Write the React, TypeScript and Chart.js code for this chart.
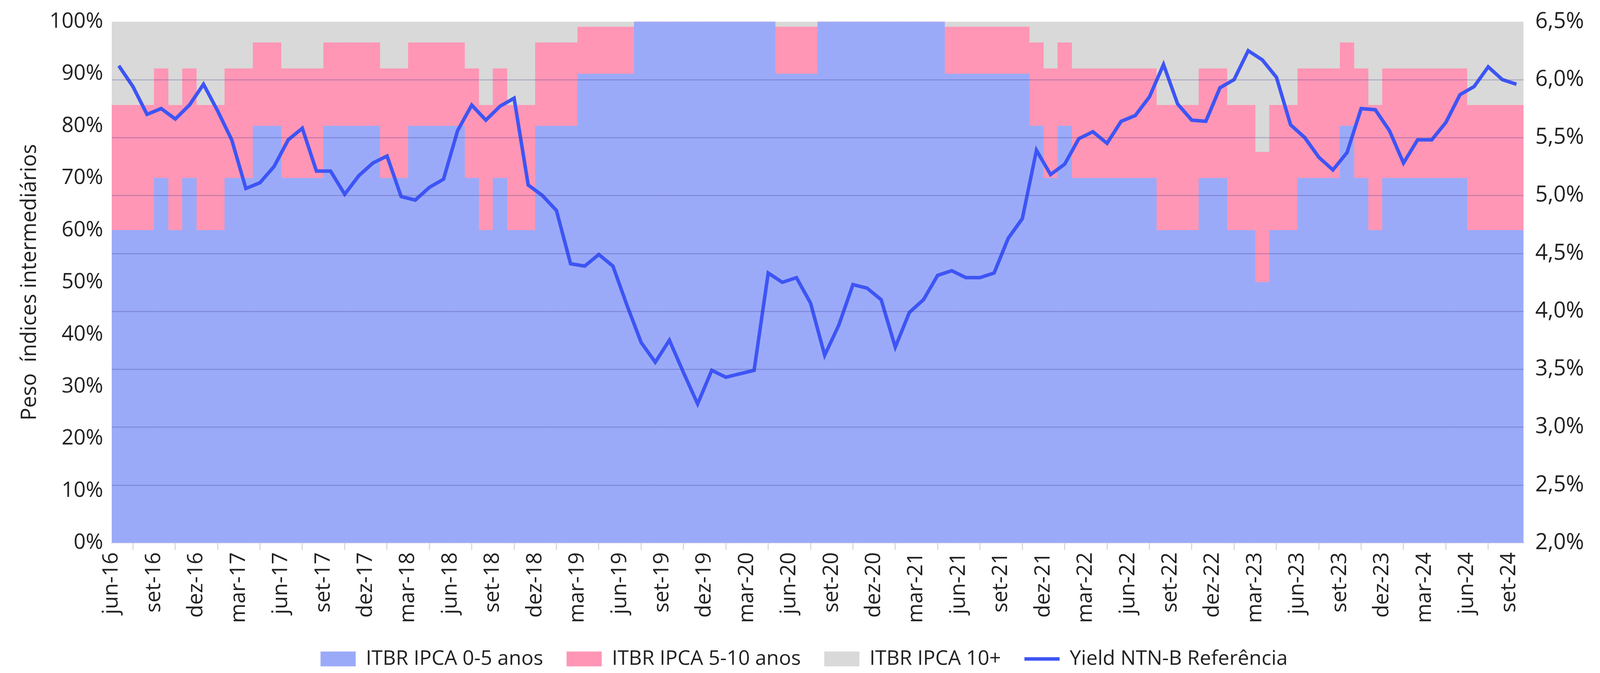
import React, { useEffect, useRef } from "react";
import { Chart, registerables } from "chart.js";
Chart.register(...registerables);

const monthNames = ["jan","fev","mar","abr","mai","jun","jul","ago","set","out","nov","dez"];
// 100 months: jun-16 .. set-24
const months: string[] = Array.from({ length: 100 }, (_, i) => {
  const m = (5 + i) % 12;
  const y = 16 + Math.floor((5 + i) / 12);
  return monthNames[m] + "-" + y;
});

const share05 = [
  60,60,60,70,60,70,60,60,70,70,80,80,70,70,70,80,80,80,80,70,70,80,80,80,80,70,
  60,70,60,60,80,80,80,90,90,90,90,100,100,100,100,100,100,100,100,100,100,90,90,90,
  100,100,100,100,100,100,100,100,100,90,90,90,90,90,90,80,70,80,70,70,70,70,70,70,
  60,60,60,70,70,60,60,50,60,60,70,70,70,80,70,60,70,70,70,70,70,70,60,60,60,60,
];
const share510 = [
  24,24,24,21,24,21,24,24,21,21,16,16,21,21,21,16,16,16,16,21,21,16,16,16,16,21,
  24,21,24,24,16,16,16,9,9,9,9,0,0,0,0,0,0,0,0,0,0,9,9,9,
  0,0,0,0,0,0,0,0,0,9,9,9,9,9,9,16,21,16,21,21,21,21,21,21,
  24,24,24,21,21,24,24,25,24,24,21,21,21,16,21,24,21,21,21,21,21,21,24,24,24,24,
];
const share10 = share05.map((v, i) => 100 - v - share510[i]);

const yieldNTNB = [
  6.12,5.94,5.70,5.75,5.66,5.78,5.96,5.73,5.48,5.06,5.11,5.25,5.48,5.58,5.21,5.21,5.01,5.17,5.28,5.34,
  4.99,4.96,5.07,5.14,5.56,5.78,5.65,5.77,5.84,5.09,5.00,4.87,4.41,4.39,4.49,4.39,4.05,3.73,3.56,3.75,
  3.47,3.20,3.49,3.43,3.46,3.49,4.33,4.25,4.29,4.07,3.62,3.88,4.23,4.20,4.10,3.69,3.99,4.10,4.31,4.35,
  4.29,4.29,4.33,4.63,4.80,5.39,5.18,5.27,5.49,5.55,5.45,5.64,5.69,5.85,6.13,5.79,5.65,5.64,5.93,6.00,
  6.25,6.17,6.02,5.61,5.50,5.33,5.22,5.37,5.75,5.74,5.56,5.28,5.48,5.48,5.63,5.87,5.94,6.11,6.00,5.96,
];

const FONT = "'Open Sans', sans-serif";

const gridOnTop = {
  id: "gridOnTop",
  beforeDatasetsDraw() {},
  afterDatasetsDraw(chart: any) {
    const { ctx, chartArea, scales } = chart;
    const s = scales.y2;
    ctx.save();
    ctx.strokeStyle = "rgba(50,50,140,0.25)";
    ctx.lineWidth = 3;
    s.ticks.forEach((t: any) => {
      if (t.value <= 2 || t.value >= 6.5) return;
      const y = Math.round(s.getPixelForValue(t.value)) + 0.5;
      ctx.beginPath();
      ctx.moveTo(chartArea.left, y);
      ctx.lineTo(chartArea.right, y);
      ctx.stroke();
    });
    ctx.restore();
  },
};

export default function App() {
  const ref = useRef<HTMLCanvasElement>(null);
  useEffect(() => {
    const pts = (arr: number[]) => arr.map((v, i) => ({ x: i + 0.5, y: v }));
    const bar = (label: string, data: number[], color: string) => ({
      type: "bar" as const,
      label,
      data: pts(data),
      backgroundColor: color,
      borderWidth: 0,
      barPercentage: 1,
      categoryPercentage: 1,
      yAxisID: "y",
      stack: "w",
      order: 2,
      pointStyle: "rect",
    });
    const chart = new Chart(ref.current!, {
      type: "bar",
      plugins: [gridOnTop],
      data: {
        datasets: [
          bar("ITBR IPCA 0-5 anos", share05, "#9BAAF8"),
          bar("ITBR IPCA 5-10 anos", share510, "#FF96B5"),
          bar("ITBR IPCA 10+", share10, "#D9D9D9"),
          {
            type: "line",
            label: "Yield NTN-B Referência",
            data: pts(yieldNTNB),
            borderColor: "#3D55F5",
            backgroundColor: "#3D55F5",
            borderWidth: 9,
            pointRadius: 0,
            pointStyle: "line",
            tension: 0,
            yAxisID: "y2",
            stack: "line",
            order: 1,
          } as any,
        ],
      },
      options: {
        animation: false,
        responsive: false,
        maintainAspectRatio: false,
        layout: { padding: { left: 40, right: 110, top: 0, bottom: 0 } },
        plugins: {
          tooltip: { enabled: false },
          legend: {
            position: "bottom",
            labels: {
              usePointStyle: true,
              pointStyleWidth: 90,
              boxHeight: 38,
              padding: 60,
              color: "#222",
              font: { family: FONT, size: 52 },
              sort: (a: any, b: any) => a.datasetIndex - b.datasetIndex,
            },
          },
        },
        scales: {
          x: {
            type: "linear",
            stacked: true,
            min: 0,
            max: 100,
            offset: false,
            border: { color: "#d9d9d9", width: 3 },
            grid: { drawOnChartArea: false, color: "#d9d9d9", lineWidth: 3, tickLength: 18 },
            afterBuildTicks: (s: any) => {
              s.ticks = [];
              for (let v = 0; v < 100; v += 3) s.ticks.push({ value: v });
            },
            ticks: {
              autoSkip: false,
              maxRotation: 90,
              minRotation: 90,
              color: "#222",
              padding: 6,
              font: { family: FONT, size: 54 },
              callback: (v: any) => months[v as number] ?? "",
            },
          },
          y: {
            stacked: true,
            min: 0,
            max: 100,
            position: "left",
            border: { display: false },
            grid: { display: false },
            title: {
              display: true,
              text: "Peso  índices intermediários",
              color: "#222",
              font: { family: FONT, size: 54 },
              padding: 4,
            },
            ticks: {
              stepSize: 10,
              color: "#222",
              padding: 14,
              font: { family: FONT, size: 54 },
              callback: (v: any) => v + "%",
            },
          },
          y2: {
            position: "right",
            min: 2,
            max: 6.5,
            border: { display: false },
            grid: { display: false },
            ticks: {
              stepSize: 0.5,
              color: "#222",
              padding: 22,
              font: { family: FONT, size: 56 },
              callback: (v: any) => Number(v).toFixed(1).replace(".", ",") + "%",
            },
          },
        },
      },
    });
    return () => chart.destroy();
  }, []);
  return (
    <div style={{ position: "fixed", left: 0, top: 0, width: 4187, height: 1723, background: "#fff" }}>
      <canvas ref={ref} width={4187} height={1723} style={{ width: 4187, height: 1723 }} />
    </div>
  );
}
